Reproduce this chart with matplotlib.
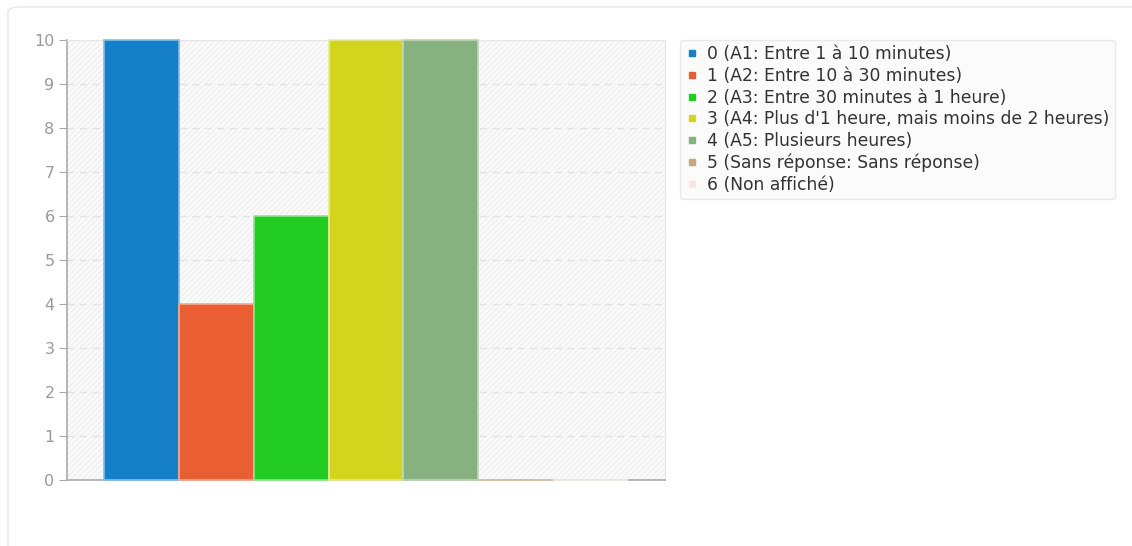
import matplotlib.pyplot as plt
from matplotlib.patches import FancyBboxPatch, Rectangle
from matplotlib.lines import Line2D

# Données
categories = ["0 (A1: Entre 1 à 10 minutes)",
              "1 (A2: Entre 10 à 30 minutes)",
              "2 (A3: Entre 30 minutes à 1 heure)",
              "3 (A4: Plus d'1 heure, mais moins de 2 heures)",
              "4 (A5: Plusieurs heures)",
              "5 (Sans réponse: Sans réponse)",
              "6 (Non affiché)"]
valeurs = [10, 4, 6, 10, 10, 0, 0]
couleurs = ["#1580c8", "#e95f33", "#22cc22", "#d3d41e", "#87b17f", "#c5a67e", "#fae6e0"]
bordures = ["#7fbde6", "#f4a98f", "#8fe68f", "#eaea99", "#bcd6b6", "#d9c2a4", "#fbeee9"]
yticks = [0, 1, 2, 3, 4, 5, 6, 7, 8, 9, 10]

plt.rcParams['hatch.color'] = "#eeeeee"
plt.rcParams['hatch.linewidth'] = 0.8

fig = plt.figure(figsize=(11.32, 5.46), dpi=100)

# cadre arrondi du panneau
panneau = FancyBboxPatch((8 / 1132, -0.05), 1.2, (546 - 7) / 546 + 0.05,
                         boxstyle="round,pad=0,rounding_size=0.01",
                         transform=fig.transFigure, facecolor="white",
                         edgecolor="#e6e6e6", linewidth=1, zorder=-10)
fig.patches.append(panneau)

ax = fig.add_axes([67 / 1132, 1 - 480 / 546, (665 - 67) / 1132, (480 - 40) / 546])
ax.set_facecolor("#fafafa")
ax.add_patch(Rectangle((0, 0), 1, 1, transform=ax.transAxes, facecolor="none",
                       hatch="//////", linewidth=0, zorder=0))

x = list(range(len(valeurs)))
ax.bar(x, valeurs, width=1.0, color=couleurs, edgecolor=bordures, linewidth=1.2,
       zorder=3, clip_on=False)

ax.set_xlim(-1.0, 7.0)
ax.set_ylim(0, 10)
ax.set_yticks(yticks)
ax.set_xticks([])
ax.yaxis.grid(True, linestyle=(0, (5, 4)), color="#e2e2e2", linewidth=1, zorder=1)
ax.set_axisbelow(True)
ax.tick_params(axis="y", direction="out", length=6, color="#aaaaaa",
               labelcolor="#999999", labelsize=11.5, pad=3)
for s in ["left", "bottom"]:
    ax.spines[s].set_color("#aaaaaa")
    ax.spines[s].set_linewidth(1.2)
for s in ["top", "right"]:
    ax.spines[s].set_color("#e6e6e6")

# Légende
handles = [Line2D([], [], marker="s", linestyle="none", markersize=5,
                  markerfacecolor=c, markeredgecolor=c) for c in couleurs]
leg = fig.legend(handles, categories, loc="upper left",
                 bbox_to_anchor=(680 / 1132, 1 - 40 / 546), borderaxespad=0,
                 fontsize=12.3, frameon=True, fancybox=True, shadow=False,
                 facecolor="#fafafa", edgecolor="#e4e4e4", handlelength=0.8,
                 handletextpad=0.5, labelspacing=0.22, borderpad=0.3,
                 labelcolor="#333333")
leg.get_frame().set_linewidth(1)

plt.savefig("out.png", dpi=100)
